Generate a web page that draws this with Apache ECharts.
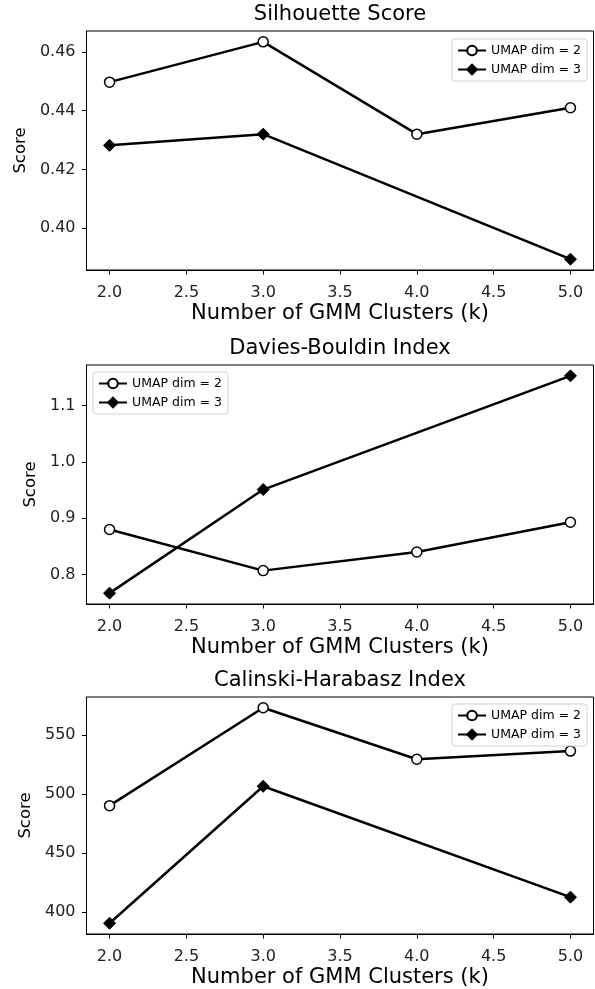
<!DOCTYPE html>
<html>
<head>
<meta charset="utf-8">
<script src="https://cdn.jsdelivr.net/npm/echarts@6/dist/echarts.min.js"></script>
<style>
html,body{margin:0;padding:0;background:#fff;}
#chart{width:595px;height:989px;}
</style>
</head>
<body>
<div id="chart"></div>
<script>
// ---- data ----
const kDim2 = [2, 3, 4, 5];
const kDim3 = [2, 3, 5];
const silhouetteDim2 = [0.4497, 0.4634, 0.4320, 0.4410];
const silhouetteDim3 = [0.4282, 0.4320, 0.3895];
const daviesDim2 = [0.880, 0.807, 0.840, 0.893];
const daviesDim3 = [0.767, 0.951, 1.153];
const calinskiDim2 = [490.1, 573.0, 529.4, 536.3];
const calinskiDim3 = [390.5, 506.5, 412.6];
const xTicks = [2.0, 2.5, 3.0, 3.5, 4.0, 4.5, 5.0];
const silhouetteTicks = [0.40, 0.42, 0.44, 0.46];
const daviesTicks = [0.8, 0.9, 1.0, 1.1];
const calinskiTicks = [400, 450, 500, 550];
const panelTitles = ['Silhouette Score', 'Davies-Bouldin Index', 'Calinski-Harabasz Index'];
const seriesNames = ['UMAP dim = 2', 'UMAP dim = 3'];
const xLabel = 'Number of GMM Clusters (k)';
const yLabel = 'Score';

const FONT = 'DejaVu Sans';
const pairs = (xs, ys) => xs.map((x, i) => [x, ys[i]]);
const pad = (a, b) => { const lo = Math.min(...a, ...b), hi = Math.max(...a, ...b); const m = (hi - lo) * 0.05; return [lo - m, hi + m]; };

const panels = [
  {d2: silhouetteDim2, d3: silhouetteDim3, ticks: silhouetteTicks, dec: 2, top: 31, nameGap: 50, legend: {right: 8, top: 39}},
  {d2: daviesDim2, d3: daviesDim3, ticks: daviesTicks, dec: 1, top: 365, nameGap: 37, legend: {left: 93, top: 372}},
  {d2: calinskiDim2, d3: calinskiDim3, ticks: calinskiTicks, dec: 0, top: 697, nameGap: 45, legend: {right: 8, top: 704}}
];
const H = 239, LEFT = 86.5, RIGHT = 1.5;
const xRange = pad(kDim2, kDim3);

const option = {
  backgroundColor: '#fff',
  animation: false,
  title: [], grid: [], xAxis: [], yAxis: [], series: [], legend: []
};

panels.forEach((p, i) => {
  option.title.push({
    text: panelTitles[i], left: LEFT + (595 - LEFT - RIGHT) / 2, top: p.top - 27, textAlign: 'center', padding: 0,
    textStyle: {fontFamily: FONT, fontSize: 21, fontWeight: 'normal', color: '#000'}
  });
  option.grid.push({left: LEFT, right: RIGHT, top: p.top, height: H, show: true, borderColor: '#000', borderWidth: 1, backgroundColor: 'transparent'});
  option.xAxis.push({
    type: 'value', gridIndex: i, min: xRange[0], max: xRange[1],
    name: xLabel, nameLocation: 'middle', nameGap: 33,
    nameTextStyle: {fontFamily: FONT, fontSize: 21, color: '#000'},
    axisLine: {show: true, lineStyle: {color: '#000', width: 1}},
    axisTick: {show: true, length: 4.5, lineStyle: {color: '#000'}, customValues: xTicks},
    axisLabel: {fontFamily: FONT, fontSize: 16, color: '#222', margin: 15, customValues: xTicks, formatter: v => Number(v).toFixed(1)},
    splitLine: {show: false}
  });
  const yr = pad(p.d2, p.d3);
  option.yAxis.push({
    type: 'value', gridIndex: i, min: yr[0], max: yr[1],
    name: yLabel, nameLocation: 'middle', nameGap: p.nameGap,
    nameTextStyle: {fontFamily: FONT, fontSize: 16.5, color: '#000'},
    axisLine: {show: true, lineStyle: {color: '#000', width: 1}},
    axisTick: {show: true, length: 4.5, lineStyle: {color: '#000'}, customValues: p.ticks},
    axisLabel: {fontFamily: FONT, fontSize: 16, color: '#222', margin: 11, customValues: p.ticks, formatter: v => Number(v).toFixed(p.dec)},
    splitLine: {show: false}
  });
  option.series.push({
    name: seriesNames[0], type: 'line', xAxisIndex: i, yAxisIndex: i,
    data: pairs(kDim2, p.d2), symbol: 'circle', symbolSize: 10,
    lineStyle: {color: '#000', width: 2.5},
    itemStyle: {color: '#fff', borderColor: '#000', borderWidth: 1.5}
  });
  option.series.push({
    name: seriesNames[1], type: 'line', xAxisIndex: i, yAxisIndex: i,
    data: pairs(kDim3, p.d3), symbol: 'diamond', symbolSize: 12,
    lineStyle: {color: '#000', width: 2.5},
    itemStyle: {color: '#000', borderColor: '#000', borderWidth: 1}
  });
  option.legend.push(Object.assign({
    orient: 'vertical', data: seriesNames, itemWidth: 28, itemHeight: 12, itemGap: 6,
    padding: [5, 6, 5, 5], backgroundColor: 'rgba(255,255,255,0.8)', borderColor: '#d3d3d3', borderWidth: 1, borderRadius: 3,
    textStyle: {fontFamily: FONT, fontSize: 12.5, color: '#000'}
  }, p.legend));
});

const chart = echarts.init(document.getElementById('chart'), null, {renderer: 'canvas'});
chart.setOption(option);
</script>
</body>
</html>
